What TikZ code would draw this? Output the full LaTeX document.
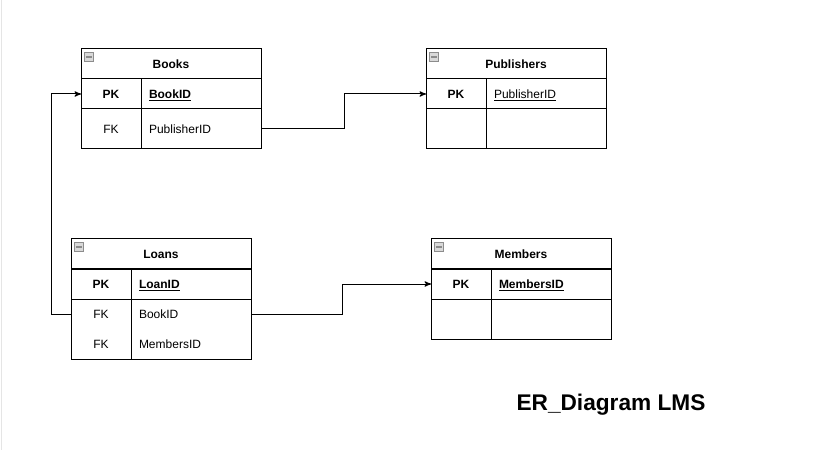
\documentclass[tikz,border=0pt]{standalone}
\usepackage{fontspec}
\setmainfont{Liberation Sans}
\usepackage{tikz}
\usetikzlibrary{arrows}
\usetikzlibrary{positioning}

\begin{document}
\begin{tikzpicture}[x=0.75pt,y=-0.75pt,->,>=stealth',line width=0.75pt,
	every node/.style={outer sep=0pt},
	head/.style={draw,-,minimum width=135pt,minimum height=22.5pt,inner sep=0pt,font=\fontsize{9}{11}\selectfont\bfseries},
	key/.style={draw,-,minimum width=45pt,inner sep=0pt,align=center,font=\fontsize{9}{22.5}\selectfont},
	field/.style={draw,-,text width=78pt,inner xsep=6pt,inner ysep=0pt,align=left,font=\fontsize{9}{22.5}\selectfont},
	row/.style={minimum height=22.5pt,text height=8pt,text depth=1.5pt},
	tall row/.style={minimum height=30pt,text height=8pt,text depth=1.5pt},
	double row/.style={minimum height=45pt},
	minus box/.style={draw=gray!90,fill=gray!30,-,line width=0.6pt,minimum size=6.5pt,inner sep=0pt,
		path picture={\draw[-,line width=0.8pt] ([xshift=1.3pt]path picture bounding box.west) -- ([xshift=-1.3pt]path picture bounding box.east);}}]

	\useasboundingbox (0,0) rectangle (819,460);
	\draw[-,draw=gray!20] (1,0) -- (1,450);

	% Books
	\node[head,anchor=north west] (books) at (81,49) {Books};
	\node[key,row,anchor=north west] (bpk) at (books.south west) {\bfseries PK};
	\node[field,row,anchor=north west] (bid) at (bpk.north east) {\bfseries\underline{BookID}};
	\node[key,tall row,anchor=north west] (bfk) at (bpk.south west) {FK};
	\node[field,tall row,anchor=north west] (bpub) at (bfk.north east) {PublisherID};

	% Publishers
	\node[head,anchor=north west] (pubs) at (426,49) {Publishers};
	\node[key,row,anchor=north west] (ppk) at (pubs.south west) {\bfseries PK};
	\node[field,row,anchor=north west] (pid) at (ppk.north east) {\underline{PublisherID}};
	\node[key,tall row,anchor=north west] (pk2) at (ppk.south west) {};
	\node[field,tall row,anchor=north west] (pf2) at (pk2.north east) {};

	% Loans
	\node[head,anchor=north west] (loans) at (71,239) {Loans};
	\node[key,row,anchor=north west] (lpk) at (loans.south west) {\bfseries PK};
	\node[field,row,anchor=north west] (lid) at (lpk.north east) {\bfseries\underline{LoanID}};
	\node[key,double row,anchor=north west] (lfk) at (lpk.south west) {FK\\FK};
	\node[field,double row,anchor=north west] (lref) at (lfk.north east) {BookID\\MembersID};

	% Members
	\node[head,anchor=north west] (mems) at (431,239) {Members};
	\node[key,row,anchor=north west] (mpk) at (mems.south west) {\bfseries PK};
	\node[field,row,anchor=north west] (mid) at (mpk.north east) {\bfseries\underline{MembersID}};
	\node[key,tall row,anchor=north west] (mk2) at (mpk.south west) {};
	\node[field,tall row,anchor=north west] (mf2) at (mk2.north east) {};

	% collapse boxes
	\node[minus box] (bmin) at ([xshift=6pt,yshift=-6pt]books.north west) {};
	\node[minus box] (pmin) at ([xshift=6pt,yshift=-6pt]pubs.north west) {};
	\node[minus box] (lmin) at ([xshift=6pt,yshift=-6pt]loans.north west) {};
	\node[minus box] (mmin) at ([xshift=6pt,yshift=-6pt]mems.north west) {};

	\node[font=\fontsize{17}{20}\selectfont\bfseries] (title) at (611,405) {ER\_Diagram LMS};

	\draw (bpub.east) -- ([xshift=62.25pt]bpub.east) |- (ppk.west);
	\draw ([yshift=11.25pt]lfk.west) -- ([xshift=-15pt,yshift=11.25pt]lfk.west) |- (bpk.west);
	\draw ([yshift=11.25pt]lref.east) -- ([xshift=68.25pt,yshift=11.25pt]lref.east) |- (mpk.west);

\end{tikzpicture}
\end{document}
